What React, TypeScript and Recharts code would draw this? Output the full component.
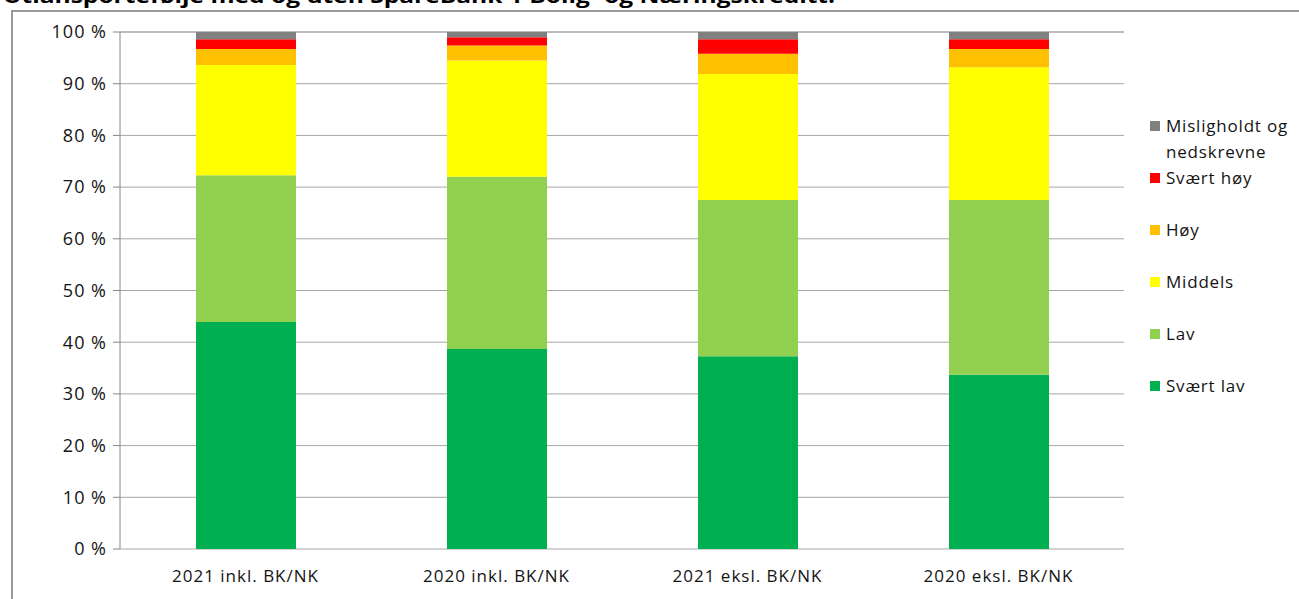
import React from 'react';
import { BarChart, Bar, XAxis, YAxis, CartesianGrid } from 'recharts';

const categories = ['2021 inkl. BK/NK', '2020 inkl. BK/NK', '2021 eksl. BK/NK', '2020 eksl. BK/NK'];

// shares of the portfolio per risk class, in percent
const svaertLav = [43.9, 38.7, 37.3, 33.7];
const lav = [28.4, 33.3, 30.2, 33.8];
const middels = [21.3, 22.5, 24.4, 25.7];
const hoy = [3.1, 2.9, 3.9, 3.5];
const svaertHoy = [1.9, 1.6, 2.8, 1.9];
const misligholdt = [1.4, 1.0, 1.4, 1.4];

const yTicks = [0, 10, 20, 30, 40, 50, 60, 70, 80, 90, 100];

const series = [
  { key: 'svaertLav', name: 'Svært lav', color: '#00B050', values: svaertLav },
  { key: 'lav', name: 'Lav', color: '#92D050', values: lav },
  { key: 'middels', name: 'Middels', color: '#FFFF00', values: middels },
  { key: 'hoy', name: 'Høy', color: '#FFC000', values: hoy },
  { key: 'svaertHoy', name: 'Svært høy', color: '#FF0000', values: svaertHoy },
  { key: 'misligholdt', name: 'Misligholdt og nedskrevne', color: '#808080', values: misligholdt },
];

const data = categories.map((name, i) => {
  const row: Record<string, string | number> = { name };
  series.forEach(s => {
    row[s.key] = s.values[i];
  });
  return row;
});

const FONT = '"Open Sans", Lato, sans-serif';
const TEXT = '#141414';
const AXIS = '#868686';
const GRID = '#a6a6a6';

// legend lists the classes top-down, worst first
const RiskLegend = () => (
  <div
    style={{
      position: 'absolute',
      left: 1150,
      top: 113,
      fontFamily: FONT,
      fontSize: 17,
      letterSpacing: 0.8,
      color: TEXT,
    }}
  >
    {[...series].reverse().map(s => (
      <div key={s.key} style={{ display: 'flex', alignItems: 'flex-start', height: 52 }}>
        <span
          style={{ width: 10, height: 10, background: s.color, marginTop: 8, marginRight: 6, flex: 'none' }}
        />
        <span style={{ lineHeight: '26px', width: 140 }}>{s.name}</span>
      </div>
    ))}
  </div>
);

export default function App() {
  return (
    <div style={{ position: 'absolute', left: 0, top: 0, width: 1299, height: 599, background: '#fff', overflow: 'hidden' }}>
      <svg width={900} height={12} style={{ position: 'absolute', left: 0, top: 0 }}>
        <text x={3} y={3} fontFamily={FONT} fontWeight="bold" fontSize={20} fill="#000" textLength={832} lengthAdjust="spacingAndGlyphs">
          Utlånsportefølje med og uten SpareBank 1 Bolig- og Næringskreditt.
        </text>
      </svg>
      <div
        style={{
          position: 'absolute',
          left: 11,
          top: 10,
          width: 1300,
          height: 600,
          borderLeft: '2px solid #9a9a9a',
          borderTop: '2px solid #9a9a9a',
          boxSizing: 'border-box',
        }}
      />
      <BarChart
        width={1299}
        height={599}
        data={data}
        margin={{ top: 32, right: 175, bottom: 0, left: 0 }}
        style={{ position: 'absolute', left: 0, top: 0 }}
      >
        <CartesianGrid xAxisId="cat" vertical={false} stroke={GRID} strokeWidth={1} />
        <XAxis
          xAxisId="edge"
          type="number"
          domain={[0, 4]}
          ticks={[0, 1, 2, 3, 4]}
          tick={false}
          height={0}
          tickSize={7}
          axisLine={{ stroke: AXIS }}
          tickLine={{ stroke: AXIS }}
        />
        <XAxis
          xAxisId="cat"
          dataKey="name"
          axisLine={false}
          tickLine={false}
          height={50}
          interval={0}
          tickMargin={15}
          tick={{ fontFamily: FONT, fontSize: 17, letterSpacing: 1, fill: TEXT }}
        />
        <YAxis
          width={120}
          domain={[0, 100]}
          ticks={yTicks}
          interval={0}
          tickFormatter={(v: number) => `${v} %`}
          tickSize={7}
          tickMargin={6}
          axisLine={{ stroke: AXIS }}
          tickLine={{ stroke: AXIS }}
          tick={{ fontFamily: FONT, fontSize: 18, letterSpacing: 1, fill: TEXT }}
        />
        {series.map(s => (
          <Bar
            key={s.key}
            xAxisId="cat"
            dataKey={s.key}
            name={s.name}
            stackId="risk"
            fill={s.color}
            barSize={100}
            isAnimationActive={false}
          />
        ))}
      </BarChart>
      <RiskLegend />
    </div>
  );
}
